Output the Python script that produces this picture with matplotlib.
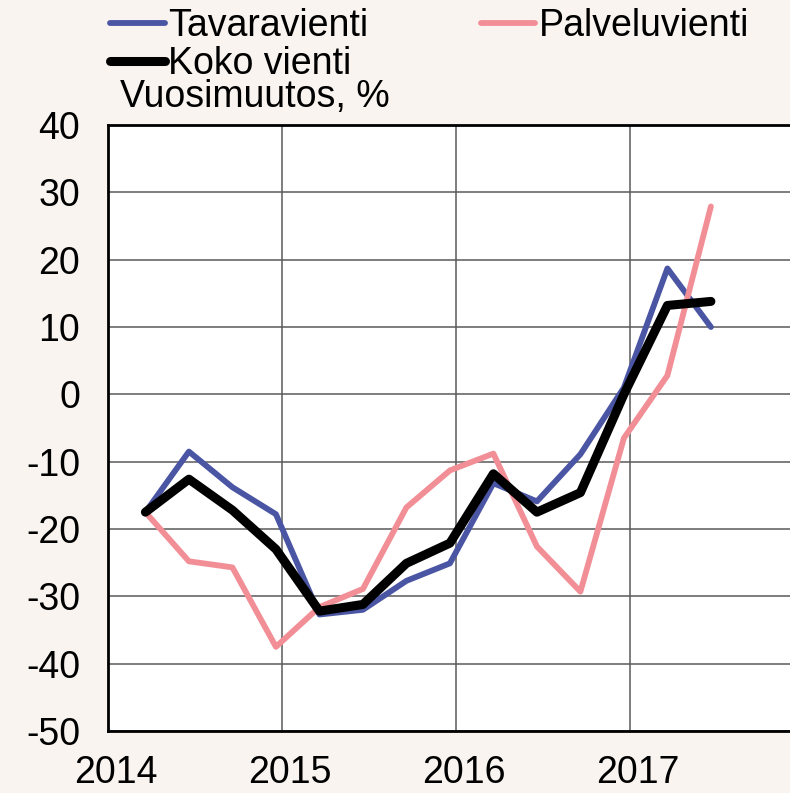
import matplotlib
matplotlib.use("Agg")
import matplotlib.pyplot as plt
import matplotlib.transforms as mtransforms
import numpy as np

plt.rcParams['font.family'] = ['Liberation Sans', 'DejaVu Sans']
plt.rcParams['axes.unicode_minus'] = False

# quarterly observations, 2014Q1 .. 2017Q2
years = [2014, 2014, 2014, 2014, 2015, 2015, 2015, 2015,
         2016, 2016, 2016, 2016, 2017, 2017]
quarters = [1, 2, 3, 4, 1, 2, 3, 4, 1, 2, 3, 4, 1, 2]

tavaravienti = [-17.5, -8.5, -13.8, -17.8, -32.7, -32.0, -27.7, -25.1,
                -13.2, -15.9, -8.9, 1.0, 18.7, 10.0]
palveluvienti = [-17.5, -24.8, -25.7, -37.5, -31.6, -28.9, -16.8, -11.3,
                 -8.8, -22.6, -29.3, -6.5, 2.8, 27.9]
koko_vienti = [-17.5, -12.6, -17.2, -23.0, -32.2, -31.2, -25.1, -22.1,
               -11.8, -17.5, -14.6, 0.0, 13.2, 13.8]

year_ticks = [2014, 2015, 2016, 2017]
y_ticks = [40, 30, 20, 10, 0, -10, -20, -30, -40, -50]

# x position within the year (observations sit a bit before the quarter end)
x = np.array(years) + (np.array(quarters) - 1) * 0.25 + 0.215

bg = '#f9f4ef'
fs = 27
fig = plt.figure(figsize=(7.9, 7.93), dpi=100, facecolor=bg)
W, H = 790, 793
ax = fig.add_axes([108 / W, (H - 731) / H, 696 / W, 606 / H])
ax.set_facecolor('white')

l1, = ax.plot(x, tavaravienti, color='#4a55a3', lw=4.2, solid_capstyle='round',
              label='Tavaravienti', zorder=3)
l2, = ax.plot(x, palveluvienti, color='#f28f96', lw=4.2, solid_capstyle='round',
              label='Palveluvienti', zorder=3)
l3, = ax.plot(x, koko_vienti, color='black', lw=6.5, solid_capstyle='round',
              label='Koko vienti', zorder=4)

ax.set_xlim(2014, 2018)
ax.set_ylim(-50, 40)
ax.set_xticks(year_ticks)
ax.set_xticklabels([str(v) for v in year_ticks])
ax.set_yticks(y_ticks)
ax.grid(True, color='#5a5a5a', lw=1.1, zorder=1)
ax.tick_params(length=0, labelsize=fs)
ax.tick_params(axis='y', pad=20)
ax.tick_params(axis='x', pad=17)
for lab in ax.get_xticklabels():
    lab.set_transform(lab.get_transform() +
                      mtransforms.ScaledTranslation(8 / 100, 0, fig.dpi_scale_trans))

for side in ['left', 'bottom', 'top']:
    ax.spines[side].set_linewidth(2)
    ax.spines[side].set_color('black')
ax.spines['right'].set_visible(False)

fig.legend(handles=[l1, l3, l2], loc='upper left', bbox_to_anchor=(84 / W, 1.0 + 18 / H),
           ncol=2, frameon=False, fontsize=fs, handlelength=1.45, handletextpad=0.1,
           columnspacing=3.0, labelspacing=0.05, borderpad=0.2)

fig.text(120 / W, 1 - 97 / H, 'Vuosimuutos, %', fontsize=fs, va='center', ha='left')

fig.savefig('out.png', dpi=100, facecolor=bg)
